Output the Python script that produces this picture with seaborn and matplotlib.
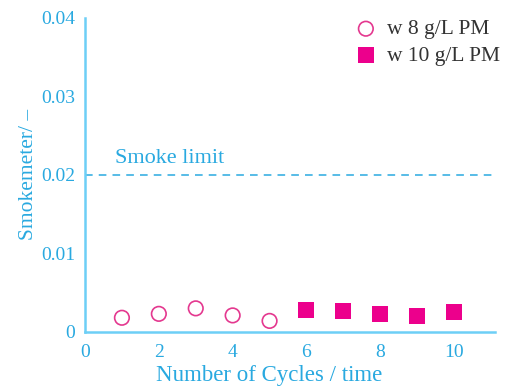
import matplotlib
matplotlib.use("Agg")
import matplotlib.pyplot as plt
import seaborn as sns
import pandas as pd

cycles_8 = [1, 2, 3, 4, 5]
smoke_8 = [0.0018, 0.0023, 0.0030, 0.0021, 0.0014]
cycles_10 = [6, 7, 8, 9, 10]
smoke_10 = [0.0028, 0.0026, 0.0023, 0.0020, 0.0025]
smoke_limit = 0.02
xticks = [0, 2, 4, 6, 8, 10]
yticks = [0, 0.01, 0.02, 0.03, 0.04]
ytick_labels = ["0", "0.01", "0.02", "0.03", "0.04"]

sns.set_style("white")
plt.rcParams['font.family'] = ['Liberation Serif', 'DejaVu Serif']

blue = "#29A9E0"
spine_blue = "#6DCFF6"
mag = "#EC008C"

fig = plt.figure(figsize=(5.09, 3.9), dpi=100)
ax = fig.add_axes([0.167, 0.149, 0.805, 0.805])

df8 = pd.DataFrame({"x": cycles_8, "y": smoke_8})
df10 = pd.DataFrame({"x": cycles_10, "y": smoke_10})

sns.scatterplot(data=df8, x="x", y="y", ax=ax, marker="o", s=110,
                facecolor="none", edgecolor="#E4388F", linewidth=1.2,
                label="w 8 g/L PM", zorder=3)
sns.scatterplot(data=df10, x="x", y="y", ax=ax, marker="s", s=120,
                color=mag, edgecolor=mag, linewidth=0,
                label="w 10 g/L PM", zorder=3)

ax.axhline(smoke_limit, color=blue, linestyle=(0, (5, 4)), linewidth=1.1)
ax.text(0.8, 0.0215, "Smoke limit", color=blue, fontsize=16)

ax.set_xlim(0, 11.1)
ax.set_ylim(0, 0.04)
ax.set_xticks(xticks)
ax.set_xticklabels([str(v) for v in xticks])
ax.set_yticks(yticks)
ax.set_yticklabels(ytick_labels)

for s in ["top", "right"]:
    ax.spines[s].set_visible(False)
for s in ["left", "bottom"]:
    ax.spines[s].set_color(spine_blue)
    ax.spines[s].set_linewidth(1.8)

ax.tick_params(axis="both", direction="in", length=7, width=1.2,
               color=blue, labelcolor=blue, labelsize=14)
ax.tick_params(axis="x", pad=9)
ax.tick_params(axis="y", pad=7)

ax.set_xlabel("Number of Cycles / time", color=blue, fontsize=16.5)
ax.xaxis.set_label_coords(0.449, -0.105)
ax.set_ylabel("Smokemeter/ \u2013", color=blue, fontsize=15.5, labelpad=2)

leg = ax.legend(loc="upper right", frameon=False, fontsize=15.5,
                handletextpad=0.0, borderaxespad=0.1, labelspacing=0.3,
                bbox_to_anchor=(1.04, 1.03))
for t in leg.get_texts():
    t.set_color("#333333")

fig.savefig("out.png", dpi=100)
